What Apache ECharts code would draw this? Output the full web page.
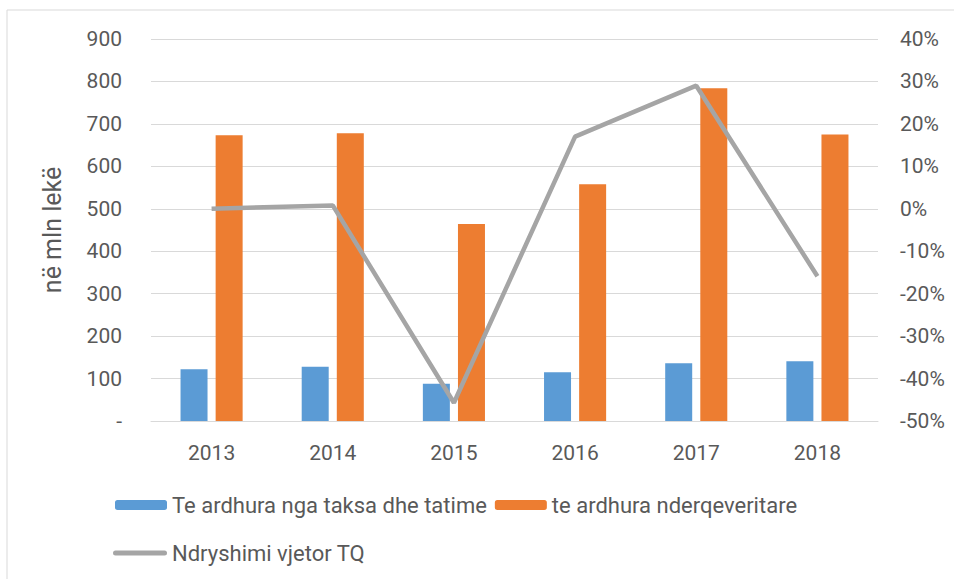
<!DOCTYPE html>
<html>
<head>
<meta charset="utf-8">
<script src="https://cdn.jsdelivr.net/npm/echarts@6/dist/echarts.min.js"></script>
<style>
  html, body { margin: 0; padding: 0; background: #fff; }
  #chart { width: 954px; height: 579px; }
</style>
</head>
<body>
<div id="chart"></div>
<script>
  const years = ['2013', '2014', '2015', '2016', '2017', '2018'];
  const taxRevenue = [122, 128, 88, 115, 136, 141];
  const interGov = [673, 678, 464, 558, 784, 675];
  const yearlyChange = [0, 0.8, -45.7, 17, 29, -15.9];

  const textColor = '#595959';
  const gridColor = '#d9d9d9';
  const font = 'Roboto';

  const chart = echarts.init(document.getElementById('chart'), null, { renderer: 'svg' });

  chart.setOption({
    animation: false,
    textStyle: { fontFamily: font },
    graphic: [
      {
        type: 'rect',
        shape: { x: 7, y: 10, width: 960, height: 600 },
        style: { fill: 'none', stroke: gridColor, lineWidth: 1 }
      }
    ],
    grid: { left: 151, right: 76, top: 39, bottom: 158 },
    legend: [
      {
        left: 115, top: 494, padding: 0,
        itemWidth: 52, itemHeight: 10, itemGap: 8,
        textStyle: { color: textColor, fontSize: 22, fontFamily: font },
        data: ['Te ardhura nga taksa dhe tatime', 'te ardhura nderqeveritare']
      },
      {
        left: 113, top: 542, padding: 0,
        itemWidth: 54, itemHeight: 10,
        textStyle: { color: textColor, fontSize: 22, fontFamily: font },
        data: [{ name: 'Ndryshimi vjetor TQ', icon: 'path://M2.5,0 L51.5,0 A2.5,2.5 0 0 1 51.5,5 L2.5,5 A2.5,2.5 0 0 1 2.5,0 Z' }]
      }
    ],
    xAxis: {
      type: 'category',
      data: years,
      axisLine: { lineStyle: { color: gridColor, width: 1 } },
      axisTick: { show: false },
      axisLabel: { color: textColor, fontSize: 21, margin: 21 }
    },
    yAxis: [
      {
        type: 'value',
        min: 0, max: 900, interval: 100,
        name: 'në mln lekë',
        nameLocation: 'middle',
        nameGap: 86,
        nameRotate: 90,
        nameTextStyle: { color: textColor, fontSize: 25 },
        axisLine: { show: false },
        axisTick: { show: false },
        splitLine: { lineStyle: { color: gridColor, width: 1 } },
        axisLabel: {
          color: textColor, fontSize: 21, margin: 29,
          formatter: v => v === 0 ? '-' : String(v)
        }
      },
      {
        type: 'value',
        min: -50, max: 40, interval: 10,
        position: 'right',
        axisLine: { show: false },
        axisTick: { show: false },
        splitLine: { show: false },
        axisLabel: {
          color: textColor, fontSize: 21, margin: 22,
          formatter: v => v + '%'
        }
      }
    ],
    series: [
      {
        name: 'Te ardhura nga taksa dhe tatime',
        type: 'bar',
        data: taxRevenue,
        barWidth: 27,
        barGap: '30%',
        itemStyle: { color: '#5b9bd5' }
      },
      {
        name: 'te ardhura nderqeveritare',
        type: 'bar',
        data: interGov,
        barWidth: 27,
        barGap: '30%',
        itemStyle: { color: '#ed7d31' }
      },
      {
        name: 'Ndryshimi vjetor TQ',
        type: 'line',
        yAxisIndex: 1,
        data: yearlyChange,
        symbol: 'none',
        lineStyle: { color: '#a5a5a5', width: 4.5 },
        itemStyle: { color: '#a5a5a5' }
      }
    ]
  });
</script>
</body>
</html>
